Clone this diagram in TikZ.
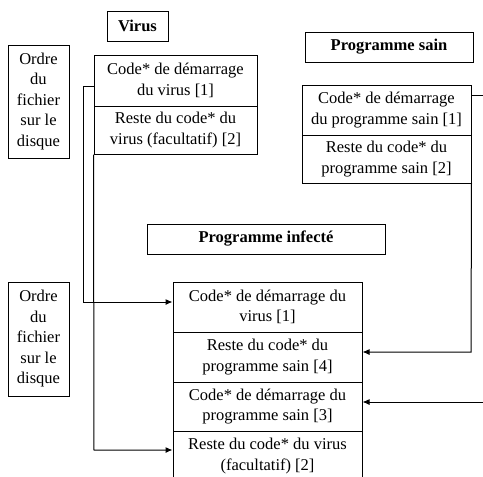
\documentclass[tikz,border=0pt]{standalone}
\usepackage{fontspec}
\setmainfont{Liberation Serif}
\usetikzlibrary{arrows.meta}
\begin{document}
\begin{tikzpicture}[x=1pt,y=-1pt,
  box/.style={draw,line width=1pt,inner sep=0pt,align=center,font=\fontsize{16.5}{20.5}\selectfont},
  titlebox/.style={box,font=\bfseries\fontsize{16.5}{20.5}\selectfont,minimum height=30pt},
  vcell/.style={box,minimum width=163pt},
  scell/.style={box,minimum width=169pt},
  icell/.style={box,minimum width=189pt},
  ordre/.style={box,minimum width=61pt},
  arr/.style={-{Latex[length=7pt,width=6pt]},line width=1pt},
  link/.style={line width=1pt}]
\useasboundingbox (0,0) rectangle (483,477);

% titles
\node[titlebox,minimum width=61pt] (tv) at (137.5,26) {Virus};
\node[titlebox,minimum width=168pt] (ts) at (389,47) {Programme sain};
\node[titlebox,minimum width=238pt] (ti) at (266,239) {Programme infecté};

% order boxes
\node[ordre,minimum height=113pt] (o1) at (38.5,101.5) {Ordre\\du\\fichier\\sur le\\disque};
\node[ordre,minimum height=114pt] (o2) at (38.5,339) {Ordre\\du\\fichier\\sur le\\disque};

% virus
\node[vcell,minimum height=51pt] (v1) at (175.5,80.5) {Code* de démarrage\\du virus [1]};
\node[vcell,minimum height=48pt] (v2) at (175.5,130) {Reste du code* du\\virus (facultatif) [2]};

% programme sain
\node[scell,minimum height=50pt] (s1) at (386.5,110) {Code* de démarrage\\du programme sain [1]};
\node[scell,minimum height=48pt] (s2) at (386.5,159) {Reste du code* du\\programme sain [2]};

% programme infecte
\node[icell,minimum height=50pt] (i1) at (267.5,307) {Code* de démarrage du\\virus [1]};
\node[icell,minimum height=50pt] (i2) at (267.5,357) {Reste du code* du\\programme sain [4]};
\node[icell,minimum height=49pt] (i3) at (267.5,406.5) {Code* de démarrage du\\programme sain [3]};
\node[icell,minimum height=50pt] (i4) at (267.5,456) {Reste du code* du virus\\(facultatif) [2]};

% connectors
\coordinate (a1) at (83,86);
\coordinate (a2) at (83,302);
\draw[arr] (v1.west |- a1) -- (a1) -- (a2) -- (i1.west |- a2);

\coordinate (b1) at (94,450);
\draw[arr] (v2.south west) -- (b1) -- (i4.west |- b1);

\coordinate (c1) at (471,352);
\draw[arr] (s2.south east) -- (c1) -- (i2.east |- c1);

\coordinate (d1) at (484,95);
\coordinate (d2) at (484,402);
\draw[arr] (s1.east |- d1) -- (d1) -- (d2) -- (i3.east |- d2);
\end{tikzpicture}
\end{document}
